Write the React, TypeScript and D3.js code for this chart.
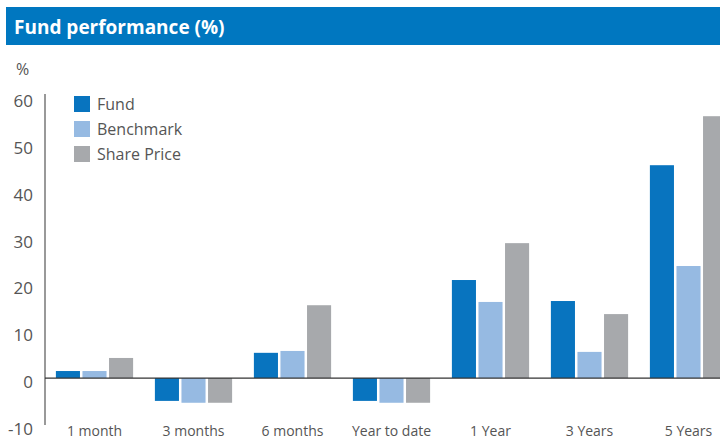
import React, { useEffect, useRef } from "react";
import * as d3 from "d3";

const categories = ["1 month", "3 months", "6 months", "Year to date", "1 Year", "3 Years", "5 Years"];
const seriesNames = ["Fund", "Benchmark", "Share Price"];
const fund = [1.5, -4.9, 5.4, -4.9, 21.0, 16.5, 45.6];
const benchmark = [1.5, -5.3, 5.8, -5.3, 16.3, 5.6, 24.0];
const sharePrice = [4.3, -5.3, 15.6, -5.3, 28.9, 13.7, 56.1];
const yTicks = [-10, 0, 10, 20, 30, 40, 50, 60];

const colors = ["#0874BF", "#96BAE2", "#A7A9AC"];
const font = "'Open Sans', sans-serif";

const App = () => {
  const ref = useRef(null);

  useEffect(() => {
    const svg = d3.select(ref.current);
    svg.selectAll("*").remove();

    const values = [fund, benchmark, sharePrice];

    const x0 = d3
      .scaleBand()
      .domain(categories)
      .range([45, 738])
      .paddingInner(0.22)
      .paddingOuter(0.11);
    const x1 = d3
      .scaleBand()
      .domain(seriesNames)
      .range([0, x0.bandwidth()])
      .paddingInner(0.094);
    const y = d3.scaleLinear().domain([-10, 60]).range([424.7, 98]);
    // tick labels sit a little lower than the gridline values in the original
    const yLabel = d3.scaleLinear().domain([-10, 60]).range([435, 107]);

    // title bar
    svg.append("rect").attr("x", 6).attr("y", 7).attr("width", 714).attr("height", 38).attr("fill", "#0077C0");
    svg
      .append("text")
      .attr("x", 14)
      .attr("y", 34)
      .attr("fill", "#fff")
      .attr("font-family", font)
      .attr("font-weight", "bold")
      .attr("font-size", 19)
      .text("Fund performance (%)");

    svg
      .append("text")
      .attr("x", 16)
      .attr("y", 75)
      .attr("fill", "#555")
      .attr("font-family", font)
      .attr("font-size", 16)
      .text("%");

    // y ticks
    svg
      .append("g")
      .selectAll("text")
      .data(yTicks)
      .join("text")
      .attr("x", 33)
      .attr("y", d => yLabel(d))
      .attr("text-anchor", "end")
      .attr("fill", "#555")
      .attr("font-family", font)
      .attr("font-size", 17)
      .text(d => d);

    // bars
    const groups = svg
      .append("g")
      .selectAll("g")
      .data(categories)
      .join("g")
      .attr("transform", d => `translate(${x0(d)},0)`);

    groups
      .selectAll("rect")
      .data((d, i) => seriesNames.map((s, j) => ({ s, j, v: values[j][i] })))
      .join("rect")
      .attr("x", d => x1(d.s))
      .attr("width", x1.bandwidth())
      .attr("y", d => y(Math.max(0, d.v)))
      .attr("height", d => Math.abs(y(d.v) - y(0)))
      .attr("fill", d => colors[d.j]);

    // axis lines
    svg.append("line").attr("x1", 45).attr("x2", 45).attr("y1", 94).attr("y2", 425).attr("stroke", "#555").attr("stroke-width", 1.2);
    svg.append("line").attr("x1", 45).attr("x2", 720).attr("y1", y(0)).attr("y2", y(0)).attr("stroke", "#333").attr("stroke-width", 1.2);

    // category labels
    svg
      .append("g")
      .selectAll("text")
      .data(categories)
      .join("text")
      .attr("x", d => x0(d) + x0.bandwidth() / 2)
      .attr("y", 436)
      .attr("text-anchor", "middle")
      .attr("fill", "#555")
      .attr("font-family", font)
      .attr("font-size", 14)
      .text(d => d);

    // legend
    const legend = svg
      .append("g")
      .selectAll("g")
      .data(seriesNames)
      .join("g")
      .attr("transform", (d, i) => `translate(74,${96 + i * 25})`);
    legend.append("rect").attr("width", 16).attr("height", 16).attr("fill", (d, i) => colors[i]);
    legend
      .append("text")
      .attr("x", 23)
      .attr("y", 14)
      .attr("fill", "#555")
      .attr("font-family", font)
      .attr("font-size", 16)
      .text(d => d);
  }, []);

  return (
    <svg
      ref={ref}
      width={720}
      height={439}
      style={{ position: "absolute", left: 0, top: 0, background: "#fff" }}
    />
  );
};

export default App;
